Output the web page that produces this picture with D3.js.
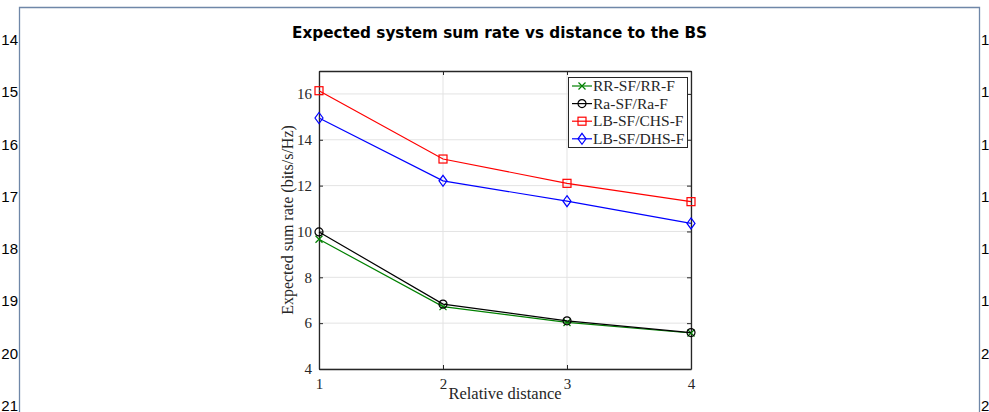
<!DOCTYPE html>
<html>
<head>
<meta charset="utf-8">
<script src="https://cdn.jsdelivr.net/npm/d3@7"></script>
<style>
  body { margin: 0; background: #fff; }
  svg { display: block; }
</style>
</head>
<body>
<div id="chart"></div>
<script>
// data
const distances = [1, 2, 3, 4];
const seriesNames = ["RR-SF/RR-F", "Ra-SF/Ra-F", "LB-SF/CHS-F", "LB-SF/DHS-F"];
const rrValues = [9.66, 6.72, 6.03, 5.57];
const raValues = [9.98, 6.83, 6.10, 5.59];
const chsValues = [16.14, 13.16, 12.10, 11.30];
const dhsValues = [14.95, 12.21, 11.32, 10.35];
const yTicks = [4, 6, 8, 10, 12, 14, 16];
const lineNumbers = [14, 15, 16, 17, 18, 19, 20, 21];

const series = [
  { name: seriesNames[0], values: rrValues, color: "#008000", marker: "x" },
  { name: seriesNames[1], values: raValues, color: "#000000", marker: "circle" },
  { name: seriesNames[2], values: chsValues, color: "#ff0000", marker: "square" },
  { name: seriesNames[3], values: dhsValues, color: "#0000ff", marker: "diamond" }
];

// svg container
const svgWidth = 989, svgHeight = 412;
const svg = d3.select("#chart").append("svg")
  .attr("width", svgWidth)
  .attr("height", svgHeight);

// page frame and line numbers
svg.append("path")
  .attr("d", `M19.5,${svgHeight} V7.5 H979.5 V${svgHeight}`)
  .attr("fill", "none")
  .attr("stroke", "#6f87a8")
  .attr("stroke-width", 1.3);

const lineNumY = d3.scaleLinear().domain([14, 21]).range([45, 411]);
svg.selectAll(".ln-left")
  .data(lineNumbers)
  .enter().append("text")
  .attr("x", 18)
  .attr("y", d => lineNumY(d))
  .attr("text-anchor", "end")
  .style("font-family", "Liberation Sans, Arial, sans-serif")
  .style("font-size", "15px")
  .text(d => d);
// right-hand numbers run off the page edge, as in the original
svg.selectAll(".ln-right")
  .data(lineNumbers)
  .enter().append("text")
  .attr("x", 981)
  .attr("y", d => lineNumY(d))
  .style("font-family", "Liberation Sans, Arial, sans-serif")
  .style("font-size", "15px")
  .text(d => d);

// title
svg.append("text")
  .attr("x", 499.5)
  .attr("y", 38)
  .attr("text-anchor", "middle")
  .attr("textLength", 415)
  .attr("lengthAdjust", "spacingAndGlyphs")
  .style("font-family", "DejaVu Sans, sans-serif")
  .style("font-weight", "bold")
  .style("font-size", "15px")
  .text("Expected system sum rate vs distance to the BS");

// chart area
const margin = { top: 71, left: 319 };
const chartWidth = 372, chartHeight = 298;
const chartGroup = svg.append("g")
  .attr("transform", `translate(${margin.left}, ${margin.top})`);

const xScale = d3.scaleLinear().domain([1, 4]).range([0, chartWidth]);
const yScale = d3.scaleLinear().domain([4, 17]).range([chartHeight, 0]);

const serif = "Liberation Serif, Times New Roman, serif";
const axisColor = "#262626";

// grid
chartGroup.append("g")
  .selectAll("line")
  .data(yTicks)
  .enter().append("line")
  .attr("x1", 0).attr("x2", chartWidth)
  .attr("y1", d => yScale(d)).attr("y2", d => yScale(d))
  .attr("stroke", "#e3e3e3");
chartGroup.append("g")
  .selectAll("line")
  .data(distances)
  .enter().append("line")
  .attr("x1", d => xScale(d)).attr("x2", d => xScale(d))
  .attr("y1", 0).attr("y2", chartHeight)
  .attr("stroke", "#e3e3e3");

// axes
function styleAxis(g) {
  g.select(".domain").attr("stroke", axisColor).attr("stroke-width", 1.3);
  g.selectAll(".tick line").attr("stroke", axisColor);
  g.selectAll(".tick text")
    .attr("fill", axisColor)
    .style("font-family", serif)
    .style("font-size", "15px");
}

chartGroup.append("g")
  .attr("transform", `translate(0, ${chartHeight})`)
  .call(d3.axisBottom(xScale).tickValues(distances).tickFormat(d3.format("d"))
    .tickSizeInner(-4).tickSizeOuter(0).tickPadding(9))
  .call(styleAxis);
chartGroup.append("g")
  .call(d3.axisLeft(yScale).tickValues(yTicks)
    .tickSizeInner(-4).tickSizeOuter(0).tickPadding(7))
  .call(styleAxis);
chartGroup.append("g")
  .call(d3.axisTop(xScale).tickValues(distances).tickFormat("")
    .tickSizeInner(-4).tickSizeOuter(0))
  .call(styleAxis);
chartGroup.append("g")
  .attr("transform", `translate(${chartWidth}, 0)`)
  .call(d3.axisRight(yScale).tickValues(yTicks).tickFormat("")
    .tickSizeInner(-4).tickSizeOuter(0))
  .call(styleAxis);

// axis labels
chartGroup.append("text")
  .attr("x", chartWidth / 2)
  .attr("y", chartHeight + 30)
  .attr("text-anchor", "middle")
  .attr("fill", axisColor)
  .style("font-family", serif)
  .style("font-size", "16.5px")
  .text("Relative distance");
chartGroup.append("text")
  .attr("transform", `translate(-26, ${chartHeight / 2}) rotate(-90)`)
  .attr("text-anchor", "middle")
  .attr("fill", axisColor)
  .style("font-family", serif)
  .style("font-size", "16px")
  .text("Expected sum rate (bits/s/Hz)");

// markers
function drawMarker(g, type, color) {
  if (type === "x") {
    g.append("path").attr("d", "M-3.5,-3.5L3.5,3.5M-3.5,3.5L3.5,-3.5")
      .attr("stroke", color).attr("stroke-width", 1.2).attr("fill", "none");
  } else if (type === "circle") {
    g.append("circle").attr("r", 4)
      .attr("stroke", color).attr("stroke-width", 1.2).attr("fill", "none");
  } else if (type === "square") {
    g.append("rect").attr("x", -4).attr("y", -4).attr("width", 8).attr("height", 8)
      .attr("stroke", color).attr("stroke-width", 1.2).attr("fill", "none");
  } else {
    g.append("path").attr("d", "M0,-5.5L4,0L0,5.5L-4,0Z")
      .attr("stroke", color).attr("stroke-width", 1.2).attr("fill", "none");
  }
}

const line = d3.line()
  .x((d, i) => xScale(distances[i]))
  .y(d => yScale(d));

series.forEach(s => {
  chartGroup.append("path")
    .datum(s.values)
    .attr("d", line)
    .attr("fill", "none")
    .attr("stroke", s.color)
    .attr("stroke-width", 1.2);
  s.values.forEach((v, i) => {
    const m = chartGroup.append("g")
      .attr("transform", `translate(${xScale(distances[i])}, ${yScale(v)})`);
    drawMarker(m, s.marker, s.color);
  });
});

// legend
const legend = chartGroup.append("g")
  .attr("transform", `translate(${568 - margin.left}, ${77 - margin.top})`);
legend.append("rect")
  .attr("x", 0.5).attr("y", 0.5)
  .attr("width", 119).attr("height", 70)
  .attr("fill", "#fff")
  .attr("stroke", axisColor)
  .attr("stroke-width", 1);
series.forEach((s, i) => {
  const row = legend.append("g").attr("transform", `translate(0, ${9 + i * 17.6})`);
  row.append("line")
    .attr("x1", 4).attr("x2", 24)
    .attr("stroke", s.color).attr("stroke-width", 1.2);
  const m = row.append("g").attr("transform", "translate(14, 0)");
  drawMarker(m, s.marker, s.color);
  row.append("text")
    .attr("x", 25)
    .attr("y", 5)
    .attr("fill", axisColor)
    .style("font-family", serif)
    .style("font-size", "15.5px")
    .text(s.name);
});
</script>
</body>
</html>
